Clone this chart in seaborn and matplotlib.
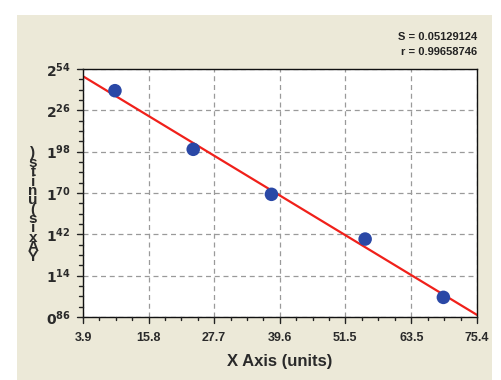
import numpy as np
import pandas as pd
import seaborn as sns
import matplotlib.pyplot as plt
from matplotlib.patches import Rectangle
from matplotlib.ticker import FixedLocator, FuncFormatter

# data
x_vals = [9.7, 23.9, 38.1, 55.1, 69.3]
y_vals = [2.393, 1.996, 1.691, 1.388, 0.993]
x_ticks = [3.9, 15.8, 27.7, 39.6, 51.5, 63.5, 75.4]
y_ticks = [0.86, 1.14, 1.42, 1.70, 1.98, 2.26, 2.54]
stats_text = ["S = 0.05129124", "r = 0.99658746"]

df = pd.DataFrame({"x": x_vals, "y": y_vals})

sns.set_style("white")
plt.rcParams["font.family"] = ["Liberation Sans", "DejaVu Sans"]

fig = plt.figure(figsize=(5.01, 3.8), dpi=100, facecolor="white")
# beige panel behind the chart
fig.patches.append(Rectangle((17 / 501, 0), (492 - 17) / 501, 1 - 15 / 380,
                             transform=fig.transFigure, facecolor="#ECE9D8",
                             edgecolor="none", zorder=-5))

ax = fig.add_axes([83 / 501, 1 - 317 / 380, (477 - 83) / 501, (317 - 69) / 380])
ax.set_zorder(2)
ax.set_facecolor("white")
ax.set_xlim(x_ticks[0], x_ticks[-1])
ax.set_ylim(y_ticks[0], y_ticks[-1])

# slightly tall oval marker like the reference
t = np.linspace(0, 2 * np.pi, 40)
oval = list(zip(0.82 * np.cos(t), np.sin(t)))

sns.regplot(data=df, x="x", y="y", ax=ax, ci=None, truncate=False,
            scatter_kws=dict(s=95, color="#2A48A6", marker=oval, zorder=3,
                             edgecolors="none", alpha=1),
            line_kws=dict(color="#F0201A", lw=1.6, zorder=2))
ax.set_xlim(x_ticks[0], x_ticks[-1])
ax.set_ylim(y_ticks[0], y_ticks[-1])

ax.xaxis.set_major_locator(FixedLocator(x_ticks))
ax.yaxis.set_major_locator(FixedLocator(y_ticks))
x_minor = [a + (b - a) * k / 4 for a, b in zip(x_ticks[:-1], x_ticks[1:]) for k in (1, 2, 3)]
y_minor = [a + (b - a) * k / 4 for a, b in zip(y_ticks[:-1], y_ticks[1:]) for k in (1, 2, 3)]


def y_fmt(v, pos):
    s = f"{v:.2f}"
    whole, frac = s.split(".")
    return rf"$\mathbf{{{whole}}}^{{\mathbf{{{frac}}}}}$"


ax.yaxis.set_major_formatter(FuncFormatter(y_fmt))
ax.xaxis.set_major_formatter(FuncFormatter(lambda v, p: f"{v:.1f}"))

ax.tick_params(axis="both", which="both", length=0)
ax.tick_params(axis="x", labelsize=9, labelcolor="#2A2A2A", pad=11)
ax.tick_params(axis="y", labelsize=10, labelcolor="#2A2A2A", pad=9)


def tick_path(vals, major, minor, lo):
    # one long NaN-separated path per axis: spine line plus tick segments
    a, b = [], []
    for v in vals:
        size = major if v in x_ticks or v in y_ticks else minor
        a += [v, v, np.nan]
        b += [-size, 0, np.nan]
    return a, b


xs, xd = tick_path(x_ticks + x_minor, 0.024, 0.014, 0)
ax.plot(xs, xd, transform=ax.get_xaxis_transform(), color="#222222", lw=1,
        clip_on=False, zorder=5)
ys, yd = tick_path(y_ticks + y_minor, 0.015, 0.009, 0)
ax.plot(yd, ys, transform=ax.get_yaxis_transform(), color="#222222", lw=1,
        clip_on=False, zorder=5)

for lab in ax.get_xticklabels():
    lab.set_fontweight("bold")

ax.grid(True, which="major", linestyle=(0, (4, 3)), color="#9A9A9A", lw=0.9)
for sp in ax.spines.values():
    sp.set_color("#111111")
    sp.set_linewidth(1)
    sp.set_zorder(4)

ax.set_xlabel("X Axis (units)", fontsize=12, fontweight="bold", color="#2A2A2A",
              labelpad=7)
ax.set_ylabel("")

# stacked y-axis label, characters upright reading bottom to top
label = "Y Axis (units)".replace(" ", "")
fig.text(33 / 501, 1 - 205 / 380, "\n".join(reversed(label)), ha="center",
         va="center", fontsize=11, fontweight="bold", color="#2A2A2A",
         linespacing=0.58)

fig.text(477 / 501, 1 - 37 / 380, stats_text[0], ha="right", va="center",
         fontsize=8, fontweight="bold", color="#222222")
fig.text(477 / 501, 1 - 52 / 380, stats_text[1], ha="right", va="center",
         fontsize=8, fontweight="bold", color="#222222")

fig.savefig("out.png", dpi=100, facecolor=fig.get_facecolor())
